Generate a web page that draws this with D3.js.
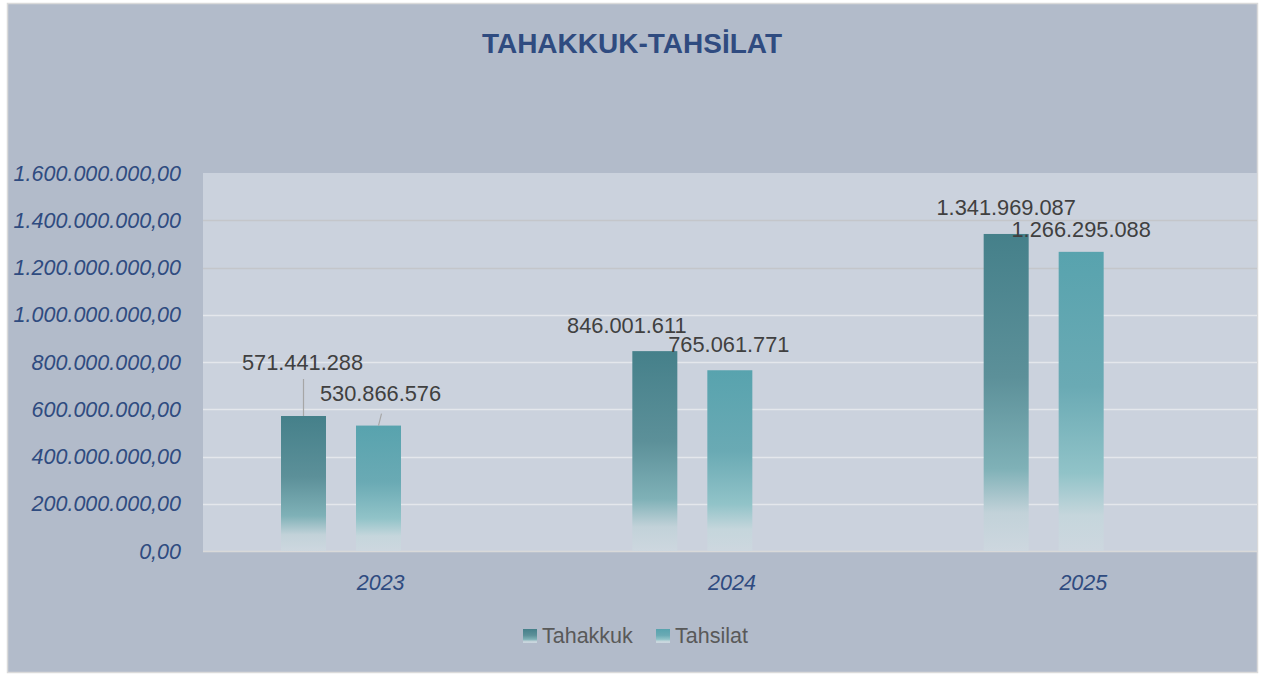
<!DOCTYPE html>
<html>
<head>
<meta charset="utf-8">
<script src="https://cdn.jsdelivr.net/npm/d3@7"></script>
<style>
  body { margin: 0; background: #ffffff; }
  svg { display: block; font-family: "Liberation Sans", Arial, sans-serif; }
</style>
</head>
<body>
<div id="chart"></div>
<script>
var width = 1267,
    height = 676;

// data
var years = ["2023", "2024", "2025"];
var seriesNames = ["Tahakkuk", "Tahsilat"];
var tahakkuk = [571441288, 846001611, 1341969087];
var tahsilat = [530866576, 765061771, 1266295088];
var yTicks = [0, 200000000, 400000000, 600000000, 800000000, 1000000000, 1200000000, 1400000000, 1600000000];

var values = [tahakkuk, tahsilat];

// label nudges (px) for the data labels, like they were dragged in excel
var labelNudge = [
  [{dx: -1, dy: -46, leader: true}, {dx: -28, dy: -18}, {dx: 0, dy: -19}],
  [{dx: 2, dy: -25, leader: true}, {dx: -1, dy: -18}, {dx: 0, dy: -15}]
];

var margin = {left: 203, right: 10, top: 173, bottom: 125};

var svg = d3.select("#chart").append("svg")
  .attr("width", width)
  .attr("height", height);

var defs = svg.append("defs");

function makeGrad(id, stops) {
  var g = defs.append("linearGradient")
    .attr("id", id)
    .attr("x1", 0).attr("y1", 0)
    .attr("x2", 0).attr("y2", 1);
  stops.forEach(function(s) {
    g.append("stop").attr("offset", s[0]).attr("stop-color", s[1]);
  });
}

makeGrad("g0", [[0, "#45808a"], [0.45, "#5c9099"], [0.74, "#7fb1b7"], [0.88, "#c2d2d9"], [1, "#cdd7df"]]);
makeGrad("g1", [[0, "#58a3ae"], [0.45, "#6aaab4"], [0.74, "#91c3c8"], [0.88, "#c5d6dc"], [1, "#cdd7df"]]);

// outer chart background
svg.append("rect")
  .attr("x", 7.5).attr("y", 3.5)
  .attr("width", 1250).attr("height", 669)
  .attr("fill", "#b2bbca")
  .attr("stroke", "#dadada")
  .attr("stroke-width", 1.5);

var plotW = 1257 - margin.left,
    plotH = 551 - margin.top;

var x0 = d3.scaleBand()
  .domain(years)
  .range([margin.left, margin.left + plotW])
  .padding(0);

// three slots per category (the third one stays empty, as in the original sheet)
var x1 = d3.scaleBand()
  .domain(seriesNames.concat(["_"]))
  .range([78, 273])
  .paddingInner(0.4)
  .paddingOuter(0);

var y = d3.scaleLinear()
  .domain([0, 1600000000])
  .range([margin.top + plotH, margin.top]);

// plot area
svg.append("rect")
  .attr("x", margin.left).attr("y", margin.top)
  .attr("width", plotW).attr("height", plotH)
  .attr("fill", "#cbd2dd");

// gridlines
svg.append("g")
  .selectAll("line")
  .data(yTicks.slice(1, -1))
  .join("line")
  .attr("x1", margin.left).attr("x2", margin.left + plotW)
  .attr("y1", function(d) { return Math.round(y(d)) + 0.5; })
  .attr("y2", function(d) { return Math.round(y(d)) + 0.5; })
  .attr("stroke", function(d) { return d >= 1200000000 ? "#c4c6ca" : "#e4e7ec"; })
  .attr("stroke-width", 1.5);

// y axis labels
var fmt = function(d) {
  var s = d3.format(",.2f")(d);
  return s.replace(/,/g, "#").replace(".", ",").replace(/#/g, ".");
};

svg.append("g")
  .selectAll("text")
  .data(yTicks)
  .join("text")
  .attr("x", 181)
  .attr("y", function(d) { return y(d); })
  .attr("dy", "0.36em")
  .attr("text-anchor", "end")
  .attr("font-size", "21.5px")
  .attr("font-style", "italic")
  .attr("fill", "#2f4b80")
  .text(fmt);

// axis line
svg.append("line")
  .attr("x1", margin.left).attr("x2", margin.left + plotW)
  .attr("y1", y(0) + 0.5).attr("y2", y(0) + 0.5)
  .attr("stroke", "#d9d9d9")
  .attr("stroke-width", 1.5);

// x labels
svg.append("g")
  .selectAll("text")
  .data(years)
  .join("text")
  .attr("x", function(d) { return x0(d) + x0.bandwidth() / 2 + 2; })
  .attr("y", 590)
  .attr("text-anchor", "middle")
  .attr("font-size", "21.5px")
  .attr("font-style", "italic")
  .attr("fill", "#2f4b80")
  .text(function(d) { return d; });

// bars
var fmtLabel = function(v) { return d3.format(",")(v).replace(/,/g, "."); };

seriesNames.forEach(function(name, si) {
  var g = svg.append("g");
  g.selectAll("rect")
    .data(values[si])
    .join("rect")
    .attr("x", function(d, i) { return x0(years[i]) + x1(name); })
    .attr("y", function(d) { return y(d); })
    .attr("width", x1.bandwidth())
    .attr("height", function(d) { return y(0) - y(d); })
    .attr("fill", "url(#g" + si + ")");

  // leader lines
  g.selectAll("line")
    .data(values[si].map(function(v, i) { return {v: v, i: i}; }).filter(function(d) { return labelNudge[si][d.i].leader; }))
    .join("line")
    .attr("x1", function(d) { return x0(years[d.i]) + x1(name) + x1.bandwidth() / 2; })
    .attr("y1", function(d) { return y(d.v); })
    .attr("x2", function(d) { return x0(years[d.i]) + x1(name) + x1.bandwidth() / 2 + (si == 1 ? 3 : 0); })
    .attr("y2", function(d) { return y(d.v) + labelNudge[si][d.i].dy + 9 + (si == 1 ? 4 : 0); })
    .attr("stroke", "#a6a6a6")
    .attr("stroke-width", 1.2);

  g.selectAll("text")
    .data(values[si])
    .join("text")
    .attr("x", function(d, i) { return x0(years[i]) + x1(name) + x1.bandwidth() / 2 + labelNudge[si][i].dx; })
    .attr("y", function(d, i) { return y(d) + labelNudge[si][i].dy; })
    .attr("text-anchor", "middle")
    .attr("font-size", "21.8px")
    .attr("fill", "#404040")
    .text(fmtLabel);
});

// title
svg.append("text")
  .attr("x", 632)
  .attr("y", 53)
  .attr("text-anchor", "middle")
  .attr("font-size", "28px")
  .attr("font-weight", "bold")
  .attr("fill", "#2f4b80")
  .text("TAHAKKUK-TAHSİLAT");

// legend
var legendX = [523, 656];
var legend = svg.append("g");
seriesNames.forEach(function(name, si) {
  legend.append("rect")
    .attr("x", legendX[si]).attr("y", 629)
    .attr("width", 14).attr("height", 14)
    .attr("fill", "url(#g" + si + ")");
  legend.append("text")
    .attr("x", legendX[si] + 19)
    .attr("y", 643)
    .attr("font-size", "21.5px")
    .attr("fill", "#595959")
    .text(name);
});
</script>
</body>
</html>
